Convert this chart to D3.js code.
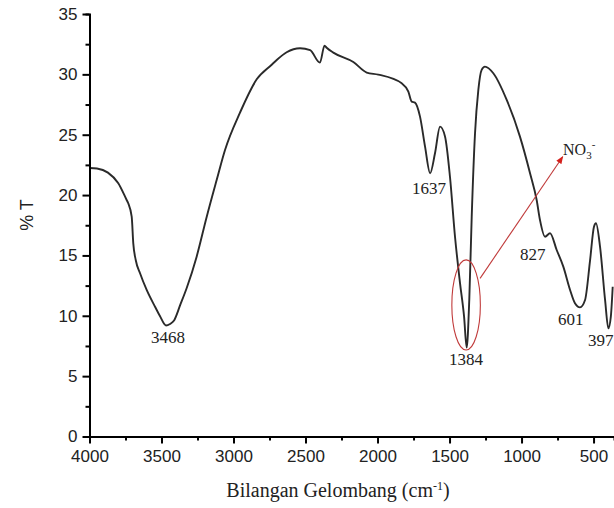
<!DOCTYPE html>
<html>
<head>
    <meta charset='utf-8'>
    <title>Spektrum FTIR</title>
    <script src='https://d3js.org/d3.v7.min.js'></script>
    <style>
        body { margin: 0; background: #fff; }
        .axis path, .axis line { stroke: #000; stroke-width: 2px; }
        .axis text { font-family: Arial, 'Liberation Sans', sans-serif; font-size: 17px; fill: #222; }
        .lbl { font-family: 'Times New Roman', 'Liberation Serif', serif; font-size: 17px; fill: #222; }
    </style>
</head>
<body>
<div id='chart'></div>
<script type='text/javascript'>
    // bilangan gelombang (cm-1) dan %T
    const wave = [4000, 3948, 3872, 3800, 3742, 3731, 3707, 3696, 3679, 3649,
                  3603, 3545, 3511, 3469, 3441, 3413, 3370, 3325, 3256, 3186,
                  3117, 3059, 2955, 2839, 2735, 2700, 2631, 2538, 2468, 2400,
                  2368, 2353, 2307, 2168, 2075, 1995, 1832, 1786, 1763, 1740,
                  1705, 1670, 1635, 1601, 1566, 1531, 1497, 1462, 1427, 1399,
                  1381, 1363, 1346, 1323, 1300, 1277, 1254, 1196, 1103, 1011,
                  941, 895, 872, 837, 802, 756, 710, 663, 629, 594,
                  559, 524, 497, 483, 455, 420, 397, 380, 367];
    const trans = [22.24, 22.2, 21.86, 20.98, 19.59, 19.32, 18.21, 16.0, 14.62, 13.52,
                   12.14, 10.75, 9.98, 9.2, 9.32, 9.61, 10.9, 12.3, 14.9, 18.21,
                   21.25, 23.74, 26.83, 29.59, 30.8, 31.19, 31.83, 32.16, 32.0, 30.97,
                   32.38, 32.2, 31.8, 31.02, 30.15, 29.98, 29.26, 28.57, 27.74, 27.66,
                   26.5, 24.01, 21.81, 23.46, 25.67, 24.84, 21.52, 16.55, 12.69, 9.93,
                   7.36, 11.31, 18.21, 25.12, 28.71, 30.37, 30.64, 30.09, 27.88, 24.84,
                   21.81, 19.59, 17.94, 16.55, 16.84, 15.45, 14.07, 12.14, 11.04, 10.7,
                   11.31, 14.62, 17.38, 17.66, 15.73, 11.31, 8.96, 9.93, 12.41];

    // label puncak: teks dan posisi (cm-1, %T)
    const peakText = ['3468', '1637', '1384', '827', '601', '397'];
    const peakWave = [3455, 1642, 1385, 922, 658, 450];
    const peakT    = [7.75, 20.09, 5.92, 14.62, 9.24, 7.5];

    const xTicks = [4000, 3500, 3000, 2500, 2000, 1500, 1000, 500];
    const xMinor = [3750, 3250, 2750, 2250, 1750, 1250, 750];
    const yTicks = [0, 5, 10, 15, 20, 25, 30, 35];
    const yMinor = [2.5, 7.5, 12.5, 17.5, 22.5, 27.5, 32.5];

    let margin = {top: 14, right: 0, bottom: 71.5, left: 89.5};
    let w = 614 - margin.left - margin.right;
    let h = 508 - margin.top - margin.bottom;

    let svg = d3.select('#chart')
            .append('svg')
                .attr('width', 614)
                .attr('height', 508)
            .append('g')
                .attr('transform', `translate(${margin.left},${margin.top})`);

    let xScale = d3.scaleLinear().domain([4000, 358]).range([0, w]);
    let yScale = d3.scaleLinear().domain([0, 35]).range([h, 0]);

    let data = wave.map((d, i) => [d, trans[i]]);

    // kurva spektrum
    let line = d3.line()
                 .x((d) => xScale(d[0]))
                 .y((d) => yScale(d[1]))
                 .curve(d3.curveMonotoneX);

    svg.append('path')
       .datum(data)
       .attr('fill', 'none')
       .attr('stroke', '#2a2a2a')
       .attr('stroke-width', 1.9)
       .attr('d', line);

    // sumbu X (minor dulu, lalu major)
    svg.append('g')
       .attr('class', 'axis')
       .attr('transform', `translate(0,${h})`)
       .call(d3.axisBottom(xScale).tickValues(xMinor).tickSize(4).tickFormat(''));

    svg.append('g')
       .attr('class', 'x axis')
       .attr('transform', `translate(0,${h})`)
       .call(d3.axisBottom(xScale).tickValues(xTicks).tickFormat(d3.format('d'))
               .tickSize(7).tickSizeOuter(0).tickPadding(6));

    // sumbu Y
    svg.append('g')
       .attr('class', 'axis')
       .call(d3.axisLeft(yScale).tickValues(yMinor).tickSize(4).tickFormat(''));

    svg.append('g')
       .attr('class', 'y axis')
       .call(d3.axisLeft(yScale).tickValues(yTicks).tickFormat(d3.format('d'))
               .tickSize(7).tickSizeOuter(0).tickPadding(5));

    // label puncak
    svg.selectAll('.peak')
       .data(peakText)
       .enter()
       .append('text')
       .attr('class', 'lbl peak')
       .attr('x', (d, i) => xScale(peakWave[i]))
       .attr('y', (d, i) => yScale(peakT[i]))
       .attr('text-anchor', 'middle')
       .text((d) => d);

    // elips dan panah NO3-
    const red = '#c03a3a';
    svg.append('defs').append('marker')
       .attr('id', 'head')
       .attr('viewBox', '0 0 10 10')
       .attr('refX', 9).attr('refY', 5)
       .attr('markerWidth', 7).attr('markerHeight', 7)
       .attr('orient', 'auto')
       .append('path')
       .attr('d', 'M0,1 L10,5 L0,9 Z')
       .attr('fill', '#d4201c');

    svg.append('ellipse')
       .attr('cx', xScale(1385))
       .attr('cy', yScale(10.9))
       .attr('rx', xScale(1385) - xScale(1484))
       .attr('ry', yScale(10.9) - yScale(14.63))
       .attr('fill', 'none')
       .attr('stroke', red)
       .attr('stroke-width', 1.1);

    svg.append('line')
       .attr('x1', xScale(1288)).attr('y1', yScale(13.1))
       .attr('x2', xScale(714)).attr('y2', yScale(23.18))
       .attr('stroke', red)
       .attr('stroke-width', 1.1)
       .attr('marker-end', 'url(#head)');

    let no3 = svg.append('text')
       .attr('class', 'lbl')
       .attr('x', xScale(712))
       .attr('y', yScale(23.32))
       .style('font-size', '16px');
    no3.append('tspan').text('NO');
    no3.append('tspan').attr('dy', 4).style('font-size', '11px').text('3');
    no3.append('tspan').attr('dy', -11).style('font-size', '11px').text('-');

    // judul sumbu
    let xl = svg.append('text')
       .attr('class', 'lbl')
       .attr('x', 338 - margin.left)
       .attr('y', 497 - margin.top)
       .attr('text-anchor', 'middle')
       .style('font-size', '20px');
    xl.append('tspan').text('Bilangan Gelombang (cm');
    xl.append('tspan').attr('dy', -7).style('font-size', '12px').text('-1');
    xl.append('tspan').attr('dy', 7).text(')');

    svg.append('text')
       .attr('transform', `translate(${33 - margin.left},${215 - margin.top}) rotate(-90)`)
       .style('text-anchor', 'middle')
       .attr('font-family', 'Arial, Liberation Sans, sans-serif')
       .attr('font-size', '18px')
       .attr('fill', '#222')
       .text('% T');
</script>
</body>
</html>
